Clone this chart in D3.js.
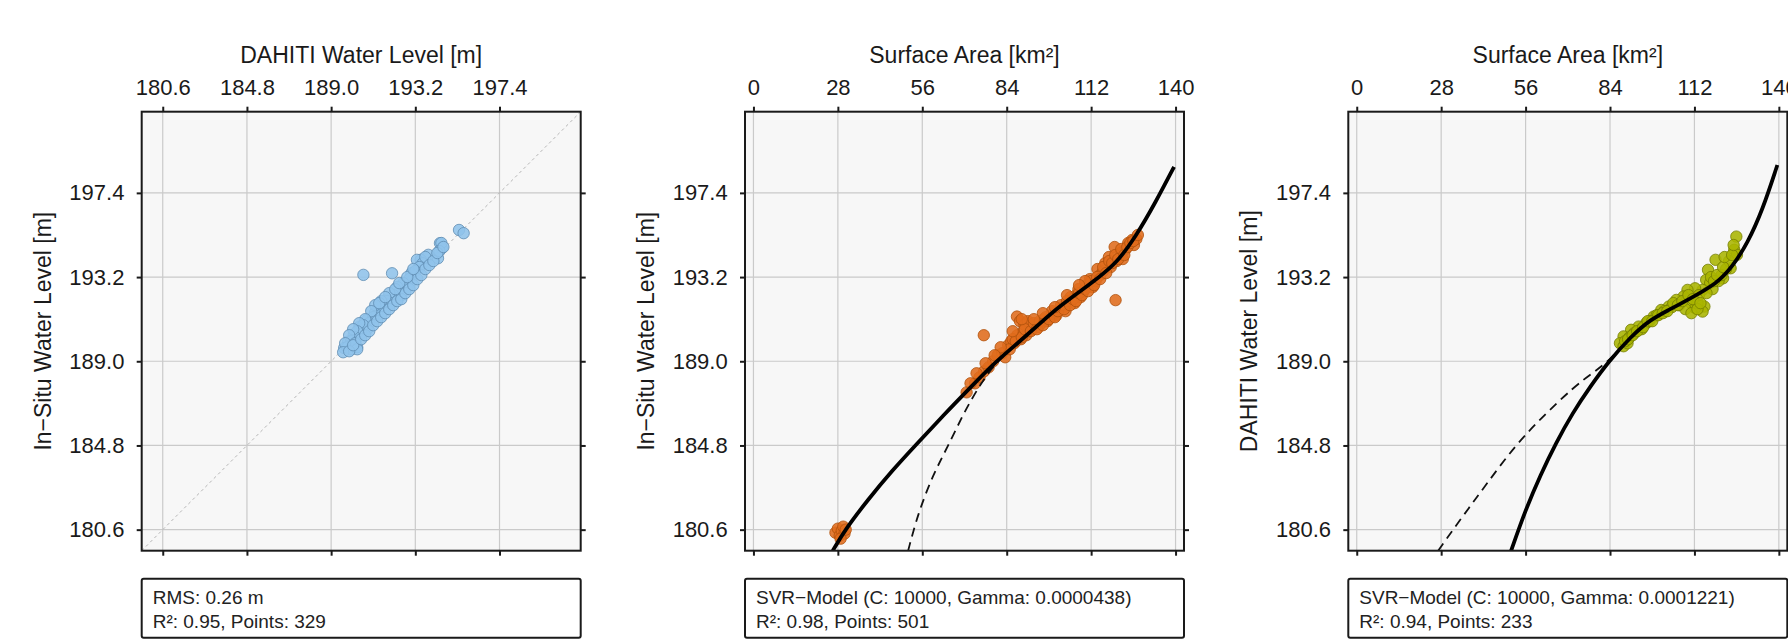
<!doctype html>
<html>
<head>
<meta charset="utf-8">
<title>Water level validation</title>
<script src="https://cdnjs.cloudflare.com/ajax/libs/d3/7.8.5/d3.min.js"></script>
<style>
  body { margin: 0; background: #fff; }
  svg { display: block; font-family: "Liberation Sans", Arial, Helvetica, sans-serif; }
  .bg { fill: #f7f7f7; }
  .grid line { stroke: #cacaca; stroke-width: 1.2; }
  .frame { fill: none; stroke: #1a1a1a; stroke-width: 2; }
  .axis line { stroke: #1a1a1a; stroke-width: 2; }
  .axis text { fill: #1a1a1a; font-size: 22px; }
  .title { fill: #1a1a1a; font-size: 23px; }
  .diag { stroke: #b5b5b5; stroke-width: 1; stroke-dasharray: 3 3; }
  .solid { fill: none; stroke: #000; stroke-width: 3.8; stroke-linejoin: round; }
  .dashed { fill: none; stroke: #111; stroke-width: 1.8; stroke-dasharray: 9 6; }
  .info rect { fill: #fff; stroke: #1a1a1a; stroke-width: 2; }
  .info text { fill: #222; font-size: 19px; }
</style>
</head>
<body>
<div id="viz"></div>
<script>
// axes
var levelTicks = [180.6, 184.8, 189.0, 193.2, 197.4];
var areaTicks = [0, 28, 56, 84, 112, 140];
var levelDomain = [179.55, 201.45];
var areaDomain = [-2.8, 142.8];

// panel 1: DAHITI level vs in-situ level
var dahitiVsInsitu = [
  [195.38,195.55],[195.61,195.39],[194.43,194.89],[194.52,194.64],[194.33,194.14],[193.85,194.31],
  [193.47,194.06],[193.28,194.06],[193.57,193.89],[193.0,193.39],[190.61,193.31],[192.04,193.39],
  [192.71,192.9],[192.52,192.56],[192.33,192.4],[191.75,192.06],[191.56,191.73],[191.18,191.4],
  [190.8,191.07],[190.42,190.73],[190.13,190.32],[189.85,189.98],[189.65,189.66],[190.23,190.07],
  [190.42,190.57],[194.5,194.9],[194.4,194.5],[193.7,194.2],[193.4,193.7],[193.2,193.5],[193.0,193.0],
  [192.9,193.1],[192.8,192.7],[192.6,192.9],[192.5,192.3],[192.3,192.7],[192.1,192.3],[192.0,191.9],
  [191.9,192.4],[191.8,192.0],[191.6,191.5],[191.5,192.0],[191.4,191.7],[191.3,191.3],[191.2,191.8],
  [191.1,191.2],[191.0,191.5],[190.9,190.9],[190.8,190.6],[190.7,191.1],[190.6,190.8],[190.5,190.4],
  [190.4,190.9],[190.3,190.5],[190.2,190.2],[190.1,190.6],[190.0,190.0],[189.9,190.3],[189.8,189.7],
  [190.0,189.6],[190.3,189.7],[190.2,189.9],[189.7,189.9],[190.3,189.6],
  [189.6,189.45],[189.9,189.5],[190.1,189.8],[190.5,190.1],[190.7,190.3],[190.9,190.5],[191.1,190.8],
  [191.3,191.0],[191.5,191.2],[191.7,191.4],[191.9,191.6],[192.1,191.8],[192.3,192.0],[192.5,192.1],
  [192.7,192.4],[192.9,192.6],[193.1,192.8],[193.3,193.1],[193.5,193.3],[193.7,193.6],[193.9,193.8],
  [194.1,194.0],[194.3,194.4],[194.6,194.7],[191.4,191.9],[191.7,192.2],[192.2,192.6],[192.4,192.9],
  [192.8,193.2],[193.1,193.6]
];

// panel 2: surface area vs in-situ level
var areaVsInsitu = [
  [27.2,180.45],[28.0,180.65],[28.6,180.3],[29.3,180.55],[29.8,180.75],[30.2,180.4],[28.9,180.15],[30.6,180.6],
  [76.4,190.3],[70.7,187.45],[73.5,187.9],[75.0,188.2],[76.5,188.5],[78.0,188.7],[79.5,189.0],[81.0,189.3],
  [82.5,189.4],[83.5,189.2],[84.5,189.8],[85.5,190.0],[86.5,189.9],[87.5,190.3],[88.7,190.1],[89.5,190.5],
  [90.5,190.3],[91.3,190.5],[92.5,190.6],[93.5,190.8],[94.5,190.7],[95.5,190.9],[96.3,191.1],[97.5,191.0],
  [98.9,191.2],[99.5,191.4],[100.5,191.3],[101.5,191.6],[102.7,191.7],[103.5,191.5],[104.5,191.9],
  [105.2,192.2],[106.5,191.9],[107.0,192.3],[107.8,192.6],[108.5,192.2],[109.5,192.5],[110.5,192.8],
  [111.6,193.1],[112.5,192.7],[113.5,193.0],[114.1,193.6],[115.0,193.3],[116.0,193.5],[116.7,193.9],
  [117.9,194.2],[118.5,193.7],[119.8,194.7],[120.5,194.0],[121.8,194.4],[122.5,194.1],[123.5,194.6],
  [124.3,194.9],[125.6,195.05],[126.2,194.8],[127.0,195.1],[120.1,192.05],
  [87.4,191.23],[88.4,191.0],[89.9,190.82],[92.5,190.73],[91.0,191.0],
  [85,189.6],[86,190.1],[87,190.0],[89,190.2],[90,190.6],[92,190.5],[93,190.9],[94,190.6],[95,191.0],
  [96,190.8],[97,191.2],[98,191.1],[99,191.5],[100,191.2],[101,191.5],[102,191.8],[103,191.6],[104,192.0],
  [105,191.8],[106,192.1],[107,192.0],[108,192.4],[109,192.3],[110,192.6],[111,192.5],[112,193.0],
  [113,192.8],[114,193.2],[115,193.1],[116,193.7],[117,193.4],[118,194.0],[119,193.9],[120,194.3],
  [121,194.1],[122,194.6],[123,194.3],[124,194.7],[125,194.9],[126,195.0],[127.5,195.3],[110,193.0],
  [108,192.8],[104,192.3],[100,191.7],[96,191.4],[93,191.1],[89,191.1],[86,190.5],[82,189.7],[80,189.3],
  [77,188.9],[74,188.4],[72,187.9]
];
var insituModel = [
  [26.3,179.55],[30.4,180.6],[38.0,182.1],[46.0,183.55],[54.0,184.85],[63.0,186.3],[72.0,187.7],
  [80.5,189.0],[88.0,189.95],[95.1,190.9],[101.4,191.73],[109.0,192.56],[114.1,193.14],[120.4,193.89],
  [126.8,195.22],[133.2,196.88],[139.5,198.7]
];
var insituModelAlt = [
  [51.3,179.55],[54.5,181.37],[59.6,183.36],[64.6,184.78],[69.7,186.41],[74.8,187.74],[78.6,188.57],
  [81.7,189.1],[88.0,189.95]
];

// panel 3: surface area vs DAHITI level
var areaVsDahiti = [
  [125.9,195.22],[125.2,194.56],[126.1,194.31],[124.0,193.64],[121.5,193.14],[119.0,194.06],[116.5,193.56],
  [115.9,193.06],[117.2,192.9],[114.7,192.56],[112.2,192.64],[109.7,192.56],[108.4,192.23],[110.9,191.9],
  [115.3,191.73],[114.7,191.48],[112.2,191.65],[106.0,192.06],[103.5,191.73],[101.0,191.56],[98.5,191.23],
  [96.0,190.9],[93.5,190.73],[91.0,190.57],[88.5,190.24],[87.3,189.9],[88.5,189.75],[89.8,189.9],
  [90.5,190.2],[92.0,190.4],[94.5,190.6],[97.0,191.0],[99.5,191.3],[102.0,191.5],[104.5,191.7],
  [107.0,191.8],[109.0,191.6],[111.0,191.4],[113.0,191.9],[118.0,192.6],[120.0,193.0],[122.5,193.6],
  [123.5,194.0],[121.0,193.3],[117.5,193.2],[113.5,192.3],
  [89,190.0],[90,190.1],[91.5,190.3],[93,190.5],[95,190.7],[96.5,191.0],[98,191.0],[100,191.3],
  [101.5,191.4],[103,191.5],[105,191.9],[106.5,191.8],[108,192.0],[110,192.3],[111.5,192.1],[113,191.6],
  [114,191.9],[116,192.4],[118.5,193.0],[119.5,193.3],[121.5,193.7],[122,194.2],[124.5,194.3],[125,194.8]
];
var dahitiModel = [
  [51.2,179.55],[56.0,181.6],[61.0,183.35],[66.0,184.9],[71.5,186.4],[77.5,187.75],[83.6,189.0],
  [91.0,190.24],[97.3,191.07],[103.5,191.56],[109.7,192.06],[119.7,192.9],[124.6,193.72],[129.6,194.89],
  [134.6,196.55],[139.5,198.79]
];
var dahitiModelAlt = [
  [27.0,179.55],[35.1,181.26],[42.5,182.76],[52.5,184.8],[62.4,186.35],[71.9,187.7],[78.0,188.4],
  [83.6,189.0],[91.0,190.24]
];

var infoRms = ["RMS: 0.26 m", "R²: 0.95, Points: 329"];
var infoInsitu = ["SVR−Model (C: 10000, Gamma: 0.0000438)", "R²: 0.98, Points: 501"];
var infoDahiti = ["SVR−Model (C: 10000, Gamma: 0.0001221)", "R²: 0.94, Points: 233"];

var panels = [
  {pts: dahitiVsInsitu, xDom: levelDomain, xTicks: levelTicks, xTitle: "DAHITI Water Level [m]",
   yTitle: "In−Situ Water Level [m]", fill: "#8fc3ea", stroke: "#5f8db3", diag: true, info: infoRms},
  {pts: areaVsInsitu, xDom: areaDomain, xTicks: areaTicks, xTitle: "Surface Area [km²]",
   yTitle: "In−Situ Water Level [m]", fill: "#e06c1c", stroke: "#b0520c", solid: insituModel, dashed: insituModelAlt, info: infoInsitu},
  {pts: areaVsDahiti, xDom: areaDomain, xTicks: areaTicks, xTitle: "Surface Area [km²]",
   yTitle: "DAHITI Water Level [m]", fill: "#aab500", stroke: "#757d00", solid: dahitiModel, dashed: dahitiModelAlt, info: infoDahiti}
];

var size = 439, top0 = 111.7, lefts = [141.7, 745, 1348.3];

var svg = d3.select("#viz").append("svg").attr("width", 1788).attr("height", 640);

panels.forEach(function(p, i) {
  var x = d3.scaleLinear().domain(p.xDom).range([0, size]);
  var y = d3.scaleLinear().domain(levelDomain).range([size, 0]);
  var xFmt = p.xDom === levelDomain ? d3.format(".1f") : d3.format("d");
  var g = svg.append("g").attr("transform", "translate(" + lefts[i] + "," + top0 + ")");

  g.append("clipPath").attr("id", "clip" + i)
    .append("rect").attr("width", size).attr("height", size);

  g.append("rect").attr("class", "bg").attr("width", size).attr("height", size);

  var grid = g.append("g").attr("class", "grid");
  grid.selectAll("line.v").data(p.xTicks).enter().append("line").attr("class", "v")
    .attr("x1", d => x(d)).attr("x2", d => x(d)).attr("y1", 0).attr("y2", size);
  grid.selectAll("line.h").data(levelTicks).enter().append("line").attr("class", "h")
    .attr("y1", d => y(d)).attr("y2", d => y(d)).attr("x1", 0).attr("x2", size);

  var plot = g.append("g").attr("clip-path", "url(#clip" + i + ")");

  if (p.diag) {
    plot.append("line").attr("class", "diag")
      .attr("x1", x(levelDomain[0])).attr("y1", y(levelDomain[0]))
      .attr("x2", x(levelDomain[1])).attr("y2", y(levelDomain[1]));
  }

  plot.selectAll("circle").data(p.pts).enter().append("circle")
    .attr("cx", d => x(d[0])).attr("cy", d => y(d[1])).attr("r", 5.7)
    .attr("fill", p.fill).attr("fill-opacity", 0.88)
    .attr("stroke", p.stroke).attr("stroke-width", 0.8);

  var line = d3.line().x(d => x(d[0])).y(d => y(d[1])).curve(d3.curveBasis);
  if (p.dashed) plot.append("path").attr("class", "dashed").attr("d", line(p.dashed));
  if (p.solid) plot.append("path").attr("class", "solid").attr("d", line(p.solid));

  g.append("rect").attr("class", "frame").attr("width", size).attr("height", size);

  g.append("g").attr("class", "axis")
    .call(d3.axisTop(x).tickValues(p.xTicks).tickFormat(xFmt).tickSize(5).tickPadding(11.7))
    .call(a => a.select(".domain").remove())
    .attr("font-size", null).attr("font-family", null);
  g.append("g").attr("class", "axis").attr("transform", "translate(0," + size + ")")
    .call(d3.axisBottom(x).tickValues(p.xTicks).tickFormat("").tickSize(5))
    .call(a => a.select(".domain").remove());
  g.append("g").attr("class", "axis")
    .call(d3.axisLeft(y).tickValues(levelTicks).tickFormat(d3.format(".1f")).tickSize(5).tickPadding(12.3))
    .call(a => a.select(".domain").remove())
    .attr("font-size", null).attr("font-family", null);
  g.append("g").attr("class", "axis").attr("transform", "translate(" + size + ",0)")
    .call(d3.axisRight(y).tickValues(levelTicks).tickFormat("").tickSize(5))
    .call(a => a.select(".domain").remove());

  g.append("text").attr("class", "title").attr("x", size / 2).attr("y", -49.2)
    .attr("text-anchor", "middle").text(p.xTitle);
  g.append("text").attr("class", "title").attr("text-anchor", "middle")
    .attr("transform", "translate(-91," + (size / 2) + ") rotate(-90)").text(p.yTitle);

  var info = g.append("g").attr("class", "info").attr("transform", "translate(0,467)");
  info.append("rect").attr("width", size).attr("height", 59).attr("rx", 2);
  info.selectAll("text").data(p.info).enter().append("text")
    .attr("x", 11).attr("y", (d, k) => 25.3 + k * 23.7).text(d => d);
});
</script>
</body>
</html>
